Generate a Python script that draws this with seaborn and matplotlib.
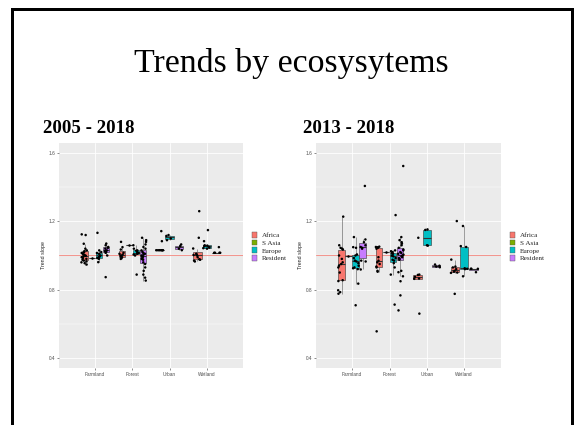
import numpy as np
import pandas as pd
import matplotlib
matplotlib.use("Agg")
import matplotlib.pyplot as plt
from matplotlib.patches import Rectangle, Patch
from matplotlib.ticker import FixedLocator
import seaborn as sns

ecosystems = ["Farmland", "Forest", "Urban", "Wetland"]
groups = ["Africa", "S Asia", "Europe", "Resident"]
group_colors = ["#F8766D", "#7CAE00", "#00BFC4", "#C77CFF"]
periods = ["2005 - 2018", "2013 - 2018"]
slide_title = "Trends by ecosysytems"
y_label = "Trend slope"
y_ticks = [0.4, 0.8, 1.2, 1.6]
y_minor = [0.6, 1.0, 1.4]
reference_slope = 1.0

# ---- trend slopes, 2005 - 2018 ----
p1_farmland_africa = [1.124, 1.12, 1.069, 1.04, 1.03, 1.025, 1.02, 1.015, 1.01, 1.005, 1.0,
                      0.998, 0.995, 0.99, 0.985, 0.98, 0.975, 0.97, 0.965, 0.96, 0.955, 0.947]
p1_farmland_sasia = [0.985]
p1_farmland_europe = [1.133, 1.03, 1.02, 1.015, 1.01, 1.0, 0.995, 0.99, 0.985, 0.98, 0.961]
p1_farmland_resident = [1.07, 1.06, 1.05, 1.045, 1.04, 1.03, 1.025, 1.02, 1.016, 1.0, 0.873]
p1_forest_africa = [1.08, 1.049, 1.035, 1.016, 1.01, 1.005, 1.0, 0.995, 0.99, 0.986, 0.98]
p1_forest_sasia = [1.062]
p1_forest_europe = [1.06, 1.04, 1.03, 1.028, 1.02, 1.015, 1.01, 1.006, 1.0, 0.888]
p1_forest_resident = [1.104, 1.09, 1.08, 1.065, 1.05, 1.04, 1.03, 1.02, 1.015, 1.01, 1.005, 1.0,
                      0.995, 0.99, 0.985, 0.98, 0.975, 0.96, 0.95, 0.93, 0.91, 0.888, 0.87, 0.853]
p1_urban_africa = [1.031, 1.031, 1.031, 1.031, 1.031, 1.031, 1.031, 1.084, 1.143]
p1_urban_europe = [1.09, 1.10, 1.115, 1.12]
p1_urban_resident = [1.031, 1.04, 1.055, 1.065]
p1_wetland_africa = [1.26, 1.104, 1.041, 1.01, 1.006, 1.003, 1.0, 0.99, 0.978, 0.975, 0.97, 0.965]
p1_wetland_europe = [1.149, 1.084, 1.06, 1.058, 1.055, 1.05, 1.046, 1.043, 1.04]
p1_wetland_resident = [1.049, 1.016, 1.016, 1.016, 1.016]

# ---- trend slopes, 2013 - 2018 ----
p2_farmland_africa = [1.228, 1.06, 1.045, 1.04, 1.035, 1.0, 0.98, 0.96, 0.95, 0.94, 0.93, 0.90,
                      0.855, 0.85, 0.796, 0.785, 0.776]
p2_farmland_sasia = [0.995]
p2_farmland_europe = [1.108, 1.049, 1.045, 1.006, 1.0, 0.985, 0.97, 0.965, 0.955, 0.94, 0.93,
                      0.925, 0.92, 0.835, 0.708]
p2_farmland_resident = [1.408, 1.094, 1.078, 1.06, 1.05, 1.045, 1.04, 0.97, 0.965, 0.918]
p2_forest_africa = [1.052, 1.05, 1.048, 1.045, 1.04, 0.99, 0.97, 0.96, 0.95, 0.935, 0.93, 0.91,
                    0.905, 0.555]
p2_forest_sasia = [1.02]
p2_forest_europe = [1.237, 1.03, 1.025, 1.02, 1.015, 1.01, 1.0, 0.995, 0.985, 0.975, 0.97, 0.955,
                    0.93, 0.888, 0.712]
p2_forest_resident = [1.525, 1.108, 1.09, 1.078, 1.07, 1.06, 1.045, 1.035, 1.03, 1.02, 1.015, 1.01,
                      1.005, 1.0, 0.995, 0.99, 0.985, 0.98, 0.975, 0.91, 0.902, 0.878, 0.849,
                      0.766, 0.678]
p2_urban_africa = [1.104, 0.888, 0.886, 0.875, 0.865, 0.863, 0.659]
p2_urban_europe = [1.153, 1.15, 1.06, 1.058]
p2_urban_resident = [0.947, 0.94, 0.935, 0.931]
p2_wetland_africa = [1.202, 0.976, 0.935, 0.93, 0.92, 0.91, 0.905, 0.9, 0.898, 0.775]
p2_wetland_europe = [1.173, 1.055, 1.05, 0.925, 0.922, 0.92, 0.878]
p2_wetland_resident = [0.922, 0.922, 0.922, 0.902]

series = [
    (periods[0], "Farmland", "Africa", p1_farmland_africa),
    (periods[0], "Farmland", "S Asia", p1_farmland_sasia),
    (periods[0], "Farmland", "Europe", p1_farmland_europe),
    (periods[0], "Farmland", "Resident", p1_farmland_resident),
    (periods[0], "Forest", "Africa", p1_forest_africa),
    (periods[0], "Forest", "S Asia", p1_forest_sasia),
    (periods[0], "Forest", "Europe", p1_forest_europe),
    (periods[0], "Forest", "Resident", p1_forest_resident),
    (periods[0], "Urban", "Africa", p1_urban_africa),
    (periods[0], "Urban", "Europe", p1_urban_europe),
    (periods[0], "Urban", "Resident", p1_urban_resident),
    (periods[0], "Wetland", "Africa", p1_wetland_africa),
    (periods[0], "Wetland", "Europe", p1_wetland_europe),
    (periods[0], "Wetland", "Resident", p1_wetland_resident),
    (periods[1], "Farmland", "Africa", p2_farmland_africa),
    (periods[1], "Farmland", "S Asia", p2_farmland_sasia),
    (periods[1], "Farmland", "Europe", p2_farmland_europe),
    (periods[1], "Farmland", "Resident", p2_farmland_resident),
    (periods[1], "Forest", "Africa", p2_forest_africa),
    (periods[1], "Forest", "S Asia", p2_forest_sasia),
    (periods[1], "Forest", "Europe", p2_forest_europe),
    (periods[1], "Forest", "Resident", p2_forest_resident),
    (periods[1], "Urban", "Africa", p2_urban_africa),
    (periods[1], "Urban", "Europe", p2_urban_europe),
    (periods[1], "Urban", "Resident", p2_urban_resident),
    (periods[1], "Wetland", "Africa", p2_wetland_africa),
    (periods[1], "Wetland", "Europe", p2_wetland_europe),
    (periods[1], "Wetland", "Resident", p2_wetland_resident),
]

rows = [(p, e, g, v) for p, e, g, vals in series for v in vals]
df = pd.DataFrame(rows, columns=["period", "ecosystem", "group", "slope"])

palette = dict(zip(groups, group_colors))
black = {g: "black" for g in groups}

np.random.seed(7)
sns.set_theme(style="darkgrid")

W, H = 578, 425
fig = plt.figure(figsize=(W / 100, H / 100), dpi=100)
fig.patch.set_facecolor("white")


def px_axes(x0, x1, top, bottom):
    return fig.add_axes([x0 / W, 1 - bottom / H, (x1 - x0) / W, (bottom - top) / H])


axes = [px_axes(59, 243, 143, 368), px_axes(315.7, 500.7, 143, 368)]

for ax, period in zip(axes, periods):
    d = df[df["period"] == period]
    ax.set_facecolor("#EBEBEB")
    ax.axhline(reference_slope, color="#F2968F", lw=0.75, zorder=1.5)
    for eco in ecosystems:
        sub = d[d["ecosystem"] == eco]
        present = [g for g in groups if g in set(sub["group"])]
        sns.boxplot(data=sub, x="ecosystem", y="slope", hue="group",
                    order=ecosystems, hue_order=present, palette=palette,
                    width=0.75, gap=0.1, dodge=True, saturation=1,
                    linecolor="#333333", linewidth=0.4, showfliers=False,
                    showcaps=False, medianprops={"linewidth": 0.8},
                    whiskerprops={"color": "#555555"},
                    legend=False, ax=ax, zorder=2)
        sns.stripplot(data=sub, x="ecosystem", y="slope", hue="group",
                      order=ecosystems, hue_order=present, palette=black,
                      dodge=True, jitter=0.3, size=1.8, linewidth=0,
                      legend=False, ax=ax, zorder=3)

    ax.set_xlim(-0.975, 3.975)
    ax.set_ylim(0.34, 1.66)
    ax.set_yticks(y_ticks)
    ax.set_yticklabels([f"{t:.1f}" for t in y_ticks])
    ax.yaxis.set_minor_locator(FixedLocator(y_minor))
    ax.grid(which="major", color="white", lw=0.6)
    ax.grid(which="minor", axis="y", color="white", lw=0.3)
    ax.set_axisbelow(True)
    for s in ax.spines.values():
        s.set_visible(False)
    ax.tick_params(which="major", length=1.6, width=0.4, color="#333333",
                   labelsize=3.4, labelcolor="#4D4D4D", pad=1,
                   bottom=True, left=True)
    ax.tick_params(which="minor", length=0)
    for lab in ax.get_xticklabels() + ax.get_yticklabels():
        lab.set_fontfamily("Liberation Sans")
    ax.set_xlabel("")
    ax.set_ylabel(y_label, fontsize=3.8, family="Liberation Sans",
                  color="#222222", labelpad=2)

    handles = [Patch(facecolor=c, edgecolor="#555555", lw=0.3) for c in group_colors]
    ax.legend(handles, groups, loc="center left", bbox_to_anchor=(1.049, 0.539),
              frameon=False, borderpad=0, borderaxespad=0,
              prop={"family": "Liberation Serif", "size": 5.1},
              handlelength=0.75, handleheight=0.85, handletextpad=0.7,
              labelspacing=0.2)

fig.text(291.5 / W, 1 - 72 / H, slide_title, ha="center", va="baseline",
         fontsize=24.4, family="Liberation Serif", color="black")
fig.text(43 / W, 1 - 133 / H, periods[0], ha="left", va="baseline",
         fontsize=13.6, weight="bold", family="Liberation Serif", color="black")
fig.text(303 / W, 1 - 133 / H, periods[1], ha="left", va="baseline",
         fontsize=13.6, weight="bold", family="Liberation Serif", color="black")

# slide frame: open at the bottom edge
fig.add_artist(Rectangle((11.5 / W, -0.05), (572.2 - 11.5) / W, 1.05 - 8.5 / H,
                         transform=fig.transFigure, fill=False, ec="black",
                         lw=2.16, joinstyle="miter", clip_on=False))

fig.savefig("out.png", dpi=100, facecolor="white")
